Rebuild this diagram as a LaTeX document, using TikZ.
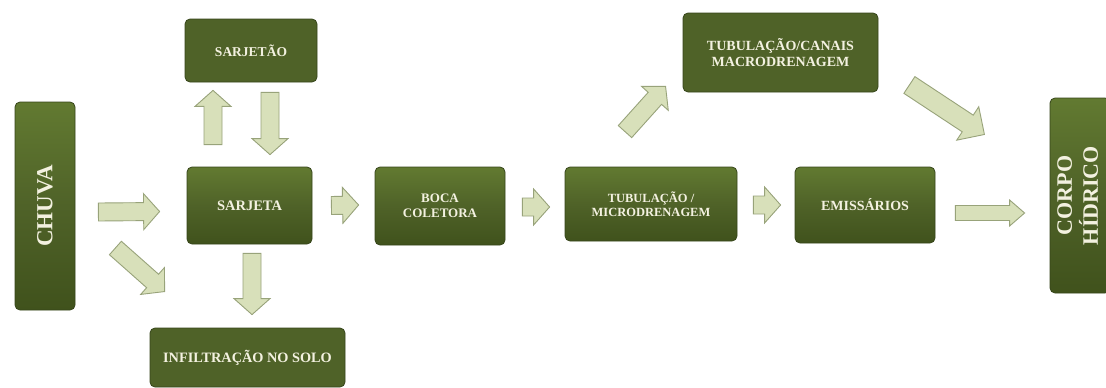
\documentclass[tikz,border=0pt]{standalone}
\usepackage{fontspec}
\setmainfont{Liberation Serif}
\usetikzlibrary{calc}

\definecolor{boxfill}{HTML}{4F6228}
\definecolor{boxhi}{HTML}{627A31}
\definecolor{boxlo}{HTML}{40521C}
\definecolor{boxline}{HTML}{36451A}
\definecolor{boxtext}{HTML}{F3F1E0}
\definecolor{arrowfill}{HTML}{D8E0BA}
\definecolor{arrowline}{HTML}{98A37A}

% sizes of the block arrows
\tikzset{
  fat shaft/.store in=\fatshaft, fat head/.store in=\fathead, fat tip/.store in=\fattip,
  fat shaft=9pt, fat head=18pt, fat tip=16pt
}

% block arrow from #2 to #3
\newcommand\flowarrow[3][]{%
  \draw[flow,#1] let \p1=(#2), \p2=(#3),
      \n1={atan2(\y2-\y1,\x2-\x1)}, \n2={veclen(\x2-\x1,\y2-\y1)} in
    [shift={(\p1)}, rotate=\n1]
    (0pt,-\fatshaft) -- (\n2-\fattip,-\fatshaft) -- (\n2-\fattip,-\fathead) -- (\n2,0pt)
    -- (\n2-\fattip,\fathead) -- (\n2-\fattip,\fatshaft) -- (0pt,\fatshaft) -- cycle;}

\begin{document}
\begin{tikzpicture}[
    x=1pt, y=-1pt,
    card/.style={rounded corners=5pt, draw=boxline, line width=0.8pt, text=boxtext, align=center,
      inner sep=0pt, font=\bfseries\fontsize{13}{15}\selectfont},
    stage/.style={card, top color=boxhi, bottom color=boxlo, middle color=boxfill},
    plate/.style={card, fill=boxfill},
    flow/.style={draw=arrowline, fill=arrowfill, line width=0.9pt, line join=miter}
  ]
    \path[use as bounding box, fill=white] (0,0) rectangle (1106,388);

    \node[stage, minimum width=60, minimum height=208] (chuva) at (45,206)
      {\rotatebox{90}{\fontsize{23}{25}\selectfont CHUVA}};
    \node[plate, minimum width=132, minimum height=63, font=\bfseries\fontsize{13.5}{15}\selectfont]
      (sarjetao) at (251,50.5) {SARJETÃO};
    \node[stage, minimum width=125, minimum height=77, font=\bfseries\fontsize{14.5}{16}\selectfont]
      (sarjeta) at (249.5,205.5) {SARJETA};
    \node[plate, minimum width=195, minimum height=59, font=\bfseries\fontsize{14.3}{16}\selectfont]
      (infiltracao) at (247.5,357.5) {INFILTRAÇÃO NO SOLO};
    \node[stage, minimum width=130, minimum height=78] (boca) at (440,206) {BOCA\\COLETORA};
    \node[stage, minimum width=172, minimum height=74, font=\bfseries\fontsize{12.5}{14.5}\selectfont]
      (micro) at (651,204) {TUBULAÇÃO /\\MICRODRENAGEM};
    \node[stage, minimum width=140, minimum height=76, font=\bfseries\fontsize{14}{16}\selectfont]
      (emissarios) at (865,205) {EMISSÁRIOS};
    \node[plate, minimum width=195, minimum height=79, font=\bfseries\fontsize{14}{16}\selectfont]
      (macro) at (780.5,52.5) {TUBULAÇÃO/CANAIS\\MACRODRENAGEM};
    \node[stage, minimum width=60, minimum height=195] (corpo) at (1080,195.5)
      {\rotatebox{90}{\fontsize{22}{24}\selectfont\begin{tabular}{@{}c@{}}CORPO\\HÍDRICO\end{tabular}}};

    \flowarrow{$(chuva.east)+(23,6)$}{$(sarjeta.west)+(-27,6)$}
    \flowarrow{$(chuva.east)+(40,42)$}{$(infiltracao.north west)+(15,-36)$}
    \flowarrow{$(sarjeta.north)+(-36.5,-22)$}{$(sarjetao.south)+(-38,8)$}
    \flowarrow{$(sarjetao.south)+(19,10)$}{$(sarjeta.north)+(20.5,-12)$}
    \flowarrow{$(sarjeta.south)+(2.5,9)$}{$(infiltracao.north)+(4.5,-13)$}
    \flowarrow{$(sarjeta.east)+(19,0)$}{$(boca.west)+(-16,-1)$}
    \flowarrow{$(boca.east)+(17,1)$}{$(micro.west)+(-15,3)$}
    \flowarrow{$(micro.east)+(16,1)$}{$(emissarios.west)+(-14,0)$}
    \flowarrow[fat shaft=7.5pt, fat head=13pt, fat tip=15pt]{$(emissarios.east)+(20,8)$}{$(corpo.west)+(-25,17.5)$}
    \flowarrow{$(micro.north)+(-26,-35)$}{$(macro.south west)+(-17,-6)$}
    \flowarrow[fat shaft=10pt, fat head=20pt, fat tip=20pt]{$(macro.east)+(31,32.5)$}{$(corpo.north west)+(-65,37)$}
\end{tikzpicture}
\end{document}
